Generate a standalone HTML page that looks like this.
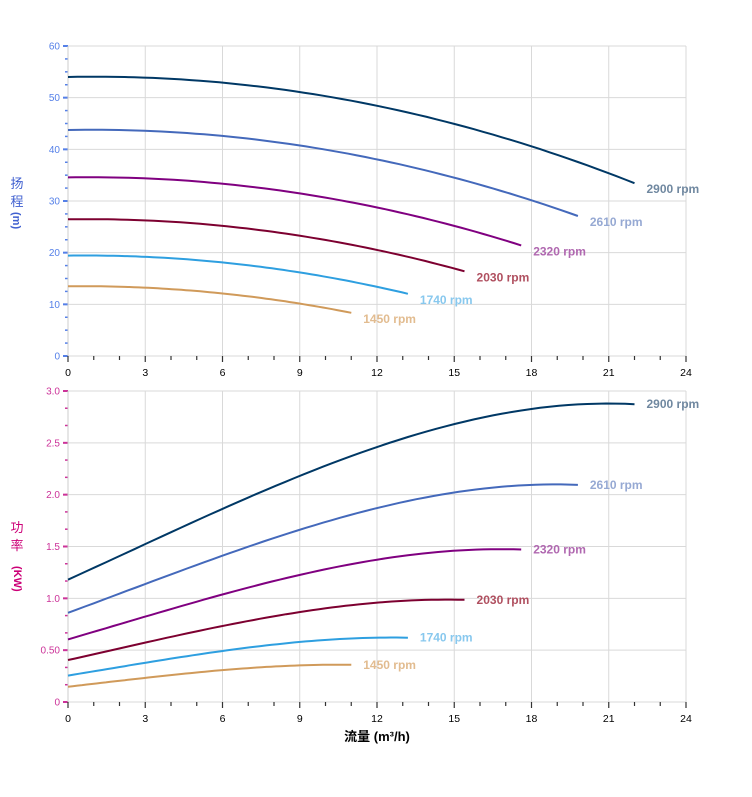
<!DOCTYPE html><html><head><meta charset="utf-8"><style>
body{margin:0;background:#fff}svg{display:block;font-family:"Liberation Sans","Noto Sans CJK SC",sans-serif}
</style></head><body>
<svg id="s" width="752" height="797" xmlns="http://www.w3.org/2000/svg"></svg>
<script>
const X0=68,X1=686,xs=(X1-X0)/24;
const T={top:46,bot:356,max:60},B={top:391,bot:702,max:3};
let o='';
function X(q){return X0+q*xs}
function grid(P,step,minor,col,fmt){
 for(let i=0;i<=24;i+=3){o+=`<line x1="${X(i)}" y1="${P.top}" x2="${X(i)}" y2="${P.bot}" stroke="#d9d9d9"/>`;}
 o+=`<line x1="${X1}" y1="${P.top}" x2="${X1}" y2="${P.bot}" stroke="#d9d9d9"/>`;
 for(let v=0;v<=P.max+1e-9;v+=step){let y=P.bot-(P.bot-P.top)*v/P.max;
  o+=`<line x1="${X0}" y1="${y}" x2="${X1}" y2="${y}" stroke="#d9d9d9"/><line x1="${X0-5}" y1="${y}" x2="${X0}" y2="${y}" stroke="${col}" stroke-width="2"/>`;
  o+=`<text x="${X0-8}" y="${y+3.5}" font-size="10" fill="${col}" text-anchor="end">${fmt(v)}</text>`;}
 for(let v=0;v<=P.max+1e-9;v+=minor){let y=P.bot-(P.bot-P.top)*v/P.max;o+=`<line x1="${X0-3}" y1="${y}" x2="${X0}" y2="${y}" stroke="${col}" stroke-width="1.5"/>`;}
 o+=`<line x1="${X0}" y1="${P.top}" x2="${X0}" y2="${P.bot}" stroke="#ccc"/>`;
 for(let i=0;i<=24;i++){o+=`<line x1="${X(i)}" y1="${P.bot}" x2="${X(i)}" y2="${P.bot+(i%3?4:6)}" stroke="#333" stroke-width="1.2"/>`;}
 for(let i=0;i<=24;i+=3)o+=`<text x="${X(i)}" y="${P.bot+20}" font-size="10.5" fill="#000" text-anchor="middle">${i}</text>`;
}
grid(T,10,2.5,"#5580e8",v=>v);
grid(B,0.5,0.1667,"#cc3399",v=>v==0?"0":v==0.5?"0.50":v.toFixed(1));
const S=[[2900,"#003865","#7088a0"],[2610,"#4469bb","#96a9d3"],[2320,"#800080","#b068b0"],[2030,"#7d0030","#b05060"],[1740,"#2e9fe0","#88c8ee"],[1450,"#d09a5a","#e2bc90"]];
const H=q=>54+0.1*q-0.047*q*q, P=q=>1.18+0.113*q+0.000799*q*q-0.0001108*q*q*q;
S.forEach(([n,c,lc])=>{const s=n/2900,qe=22*s;let a='',b='';
 for(let i=0;i<=60;i++){let q=qe*i/60;let h=s*s*H(q/s),p=s*s*s*P(q/s);
  a+=(i?'L':'M')+X(q).toFixed(1)+' '+(T.bot-(T.bot-T.top)*h/60).toFixed(1);
  b+=(i?'L':'M')+X(q).toFixed(1)+' '+(B.bot-(B.bot-B.top)*p/3).toFixed(1);}
 o+=`<path d="${a}" fill="none" stroke="${c}" stroke-width="2"/><path d="${b}" fill="none" stroke="${c}" stroke-width="2"/>`;
 let he=s*s*H(22),pe=s*s*s*P(22);
 o+=`<text x="${X(qe)+12}" y="${T.bot-(T.bot-T.top)*he/60+10}" font-size="12" font-weight="bold" fill="${lc}">${n} rpm</text>`;
 o+=`<text x="${X(qe)+12}" y="${B.bot-(B.bot-B.top)*pe/3+4}" font-size="12" font-weight="bold" fill="${lc}">${n} rpm</text>`;
});
o+=`<text x="17" y="188" font-size="13" fill="#4060d0" text-anchor="middle">扬</text><text x="17" y="206" font-size="13" fill="#4060d0" text-anchor="middle">程</text><text x="13" y="212" font-size="11" font-weight="bold" fill="#4060d0" transform="rotate(90 13 212)">(m)</text>`;
o+=`<text x="17" y="532" font-size="13" fill="#cc0077" text-anchor="middle">功</text><text x="17" y="550" font-size="13" fill="#cc0077" text-anchor="middle">率</text><text x="14" y="566" font-size="11" font-weight="bold" fill="#cc0077" transform="rotate(90 14 566)">(KW)</text>`;
o+=`<text x="377" y="741" font-size="13" font-weight="bold" fill="#000" text-anchor="middle">流量 (m³/h)</text>`;
document.getElementById('s').innerHTML=o;
</script></body></html>
